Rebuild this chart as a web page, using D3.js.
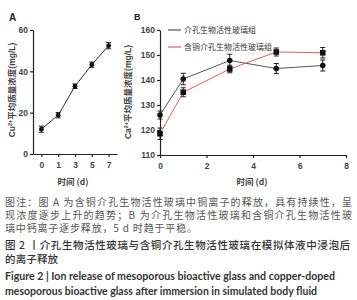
<!DOCTYPE html>
<html><head><meta charset="utf-8">
<script src="https://cdn.jsdelivr.net/npm/d3@7"></script>
<style>body{margin:0;background:#fff} svg{display:block}</style>
</head><body><svg id="c" width="357" height="300"></svg>
<script>
// ---- data ----
const daysA = ["0", "1", "3", "5", "7"];
const cuMean = [12, 18.8, 32.8, 43.2, 52.4];
const cuErr = [1.5, 1.3, 1.1, 1.3, 1.5];
const yTicksA = [0, 20, 40, 60];

const daysB = [0, 1, 3, 5, 7];
const mbgMean = [126, 140.4, 147.8, 144.6, 145.8];
const mbgErr = [1.6, 2.3, 2.5, 2.0, 2.2];
const cuMbgMean = [118.5, 135.1, 144.4, 151.2, 150.9];
const cuMbgErr = [2.3, 1.8, 1.5, 1.6, 2.1];
const xTicksB = [0, 2, 4, 6, 8];
const yTicksB = [110, 120, 130, 140, 150, 160];
const legendLabels = ["介孔生物活性玻璃组", "含铜介孔生物活性玻璃组"];

const captionNote = [
  "图注：图 A 为含铜介孔生物活性玻璃中铜离子的释放，具有持续性，呈",
  "现浓度逐步上升的趋势；B 为介孔生物活性玻璃和含铜介孔生物活性玻",
  "璃中钙离子逐步释放，5 d 时趋于平稳。"
];
const captionTitleZh = ["图 2 丨介孔生物活性玻璃与含铜介孔生物活性玻璃在模拟体液中浸泡后", "的离子释放"];
const captionTitleEn = [
  "Figure 2  |  Ion release of mesoporous bioactive glass and copper-doped",
  "mesoporous bioactive glass after immersion in simulated body fluid"
];

// ---- drawing ----
const svg = d3.select("#c");
const CJK = "'Noto Sans CJK SC','Noto Sans',sans-serif";
const NUM = "'Liberation Sans',Arial,sans-serif";
const axisCol = "#222";

function styleAxis(g) {
  g.selectAll("path,line").attr("stroke", axisCol).attr("stroke-width", 1.2);
  g.selectAll("text").attr("font-family", NUM).attr("font-size", 8.5)
    .attr("font-weight", "bold").attr("fill", "#444");
}

function errorBars(g, xs, ys, es, yS, col) {
  const cap = 2.5;
  xs.forEach((x, i) => {
    const y1 = yS(ys[i] - es[i]), y2 = yS(ys[i] + es[i]);
    g.append("line").attr("x1", x).attr("x2", x).attr("y1", y1).attr("y2", y2).attr("stroke", col).attr("stroke-width", 1);
    g.append("line").attr("x1", x - cap).attr("x2", x + cap).attr("y1", y1).attr("y2", y1).attr("stroke", col).attr("stroke-width", 1);
    g.append("line").attr("x1", x - cap).attr("x2", x + cap).attr("y1", y2).attr("y2", y2).attr("stroke", col).attr("stroke-width", 1);
  });
}

function yLabel(x, y, elem) {
  const t = svg.append("text").attr("transform", `translate(${x},${y}) rotate(-90)`)
    .attr("text-anchor", "middle").attr("font-family", CJK).attr("font-size", 8.5)
    .attr("fill", "#444").attr("font-weight", "bold");
  t.append("tspan").attr("font-family", NUM).text(elem);
  t.append("tspan").attr("font-size", 5.5).attr("dy", -3.5).attr("font-family", NUM).text("2+");
  t.append("tspan").attr("dy", 3.5).text("平均质量浓度");
  t.append("tspan").attr("font-family", NUM).text("(mg/L)");
}

// Panel A
const xA = d3.scalePoint().domain(daysA).range([33, 117]).padding(0.5);
const yA = d3.scaleLinear().domain([0, 60]).range([154, 30]);
svg.append("g").attr("transform", "translate(0,154)")
  .call(d3.axisBottom(xA).tickSize(3).tickSizeOuter(0).tickPadding(5)).call(styleAxis);
svg.append("g").attr("transform", "translate(33,0)")
  .call(d3.axisLeft(yA).tickValues(yTicksA).tickSize(3).tickSizeOuter(0).tickPadding(2)).call(styleAxis);

const gA = svg.append("g");
gA.append("path").datum(daysA.map((d, i) => [xA(d), yA(cuMean[i])]))
  .attr("d", d3.line()).attr("fill", "none").attr("stroke", "#333").attr("stroke-width", 1);
errorBars(gA, daysA.map(d => xA(d)), cuMean, cuErr, yA, "#222");
gA.selectAll("circle").data(cuMean).join("circle")
  .attr("cx", (d, i) => xA(daysA[i])).attr("cy", d => yA(d)).attr("r", 2.4).attr("fill", "#111");

svg.append("text").attr("x", 9).attr("y", 21).attr("font-family", NUM).attr("font-weight", "bold")
  .attr("font-size", 10).attr("fill", "#222").text("A");
yLabel(15, 90, "Cu");
svg.append("text").attr("x", 73).attr("y", 185).attr("text-anchor", "middle")
  .attr("font-family", CJK).attr("font-size", 8.5).attr("font-weight", "bold").attr("fill", "#444").text("时间 (d)");

// Panel B
const xB = d3.scaleLinear().domain([0, 8]).range([160, 346]);
const yB = d3.scaleLinear().domain([110, 160]).range([155, 30]);
svg.append("g").attr("transform", "translate(0,155)")
  .call(d3.axisBottom(xB).tickValues(xTicksB).tickSize(3).tickSizeOuter(0).tickPadding(5)).call(styleAxis);
svg.append("g").attr("transform", "translate(160,0)")
  .call(d3.axisLeft(yB).tickValues(yTicksB).tickSize(3).tickSizeOuter(0).tickPadding(2)).call(styleAxis);

const gB = svg.append("g");
const lineB = d3.line().x((d, i) => xB(daysB[i])).y(d => yB(d));
gB.append("path").datum(mbgMean).attr("d", lineB).attr("fill", "none").attr("stroke", "#555").attr("stroke-width", 1);
gB.append("path").datum(cuMbgMean).attr("d", lineB).attr("fill", "none").attr("stroke", "#e0605e").attr("stroke-width", 1);
errorBars(gB, daysB.map(xB), mbgMean, mbgErr, yB, "#222");
errorBars(gB, daysB.map(xB), cuMbgMean, cuMbgErr, yB, "#222");
gB.selectAll("circle").data(mbgMean).join("circle")
  .attr("cx", (d, i) => xB(daysB[i])).attr("cy", d => yB(d)).attr("r", 2.8).attr("fill", "#111");
gB.selectAll("rect").data(cuMbgMean).join("rect")
  .attr("x", (d, i) => xB(daysB[i]) - 2.8).attr("y", d => yB(d) - 2.8)
  .attr("width", 5.6).attr("height", 5.6).attr("fill", "#111");

// legend
const legCols = ["#555", "#e0605e"];
const legY = [30, 47];
const legLen = [72, 88];
legendLabels.forEach((lab, i) => {
  svg.append("line").attr("x1", 168).attr("x2", 181).attr("y1", legY[i]).attr("y2", legY[i])
    .attr("stroke", legCols[i]).attr("stroke-width", 1.2);
  svg.append("text").attr("x", 184).attr("y", legY[i] + 3).attr("font-family", CJK)
    .attr("font-size", 8).attr("fill", "#333").attr("textLength", legLen[i]).attr("lengthAdjust", "spacingAndGlyphs").text(lab);
});

svg.append("text").attr("x", 134).attr("y", 20).attr("font-family", NUM).attr("font-weight", "bold")
  .attr("font-size", 9).attr("fill", "#222").text("B");
yLabel(131, 92, "Ca");
svg.append("text").attr("x", 252).attr("y", 185).attr("text-anchor", "middle")
  .attr("font-family", CJK).attr("font-size", 8.5).attr("font-weight", "bold").attr("fill", "#444").text("时间 (d)");

// caption
const noteY = [206, 219, 232];
const noteLen = [347, 347, 192];
captionNote.forEach((t, i) => {
  svg.append("text").attr("x", 5).attr("y", noteY[i]).attr("font-family", CJK)
    .attr("font-size", 10).attr("fill", "#555").text(t)
    .attr("textLength", noteLen[i]).attr("lengthAdjust", "spacing");
});
const zhY = [249, 263];
const zhLen = [345, 53];
captionTitleZh.forEach((t, i) => {
  svg.append("text").attr("x", 5).attr("y", zhY[i]).attr("font-family", CJK)
    .attr("font-size", 10.5).attr("font-weight", 500).attr("fill", "#333").text(t)
    .attr("textLength", zhLen[i]).attr("lengthAdjust", "spacing");
});
const enY = [280, 295];
const enLen = [330, 312];
captionTitleEn.forEach((t, i) => {
  svg.append("text").attr("x", 5).attr("y", enY[i]).attr("font-family", "Lato,'Open Sans',sans-serif")
    .attr("font-size", 10.5).attr("font-weight", "bold").attr("fill", "#333")
    .attr("textLength", enLen[i]).attr("lengthAdjust", "spacingAndGlyphs").text(t);
});
</script>
</body></html>
